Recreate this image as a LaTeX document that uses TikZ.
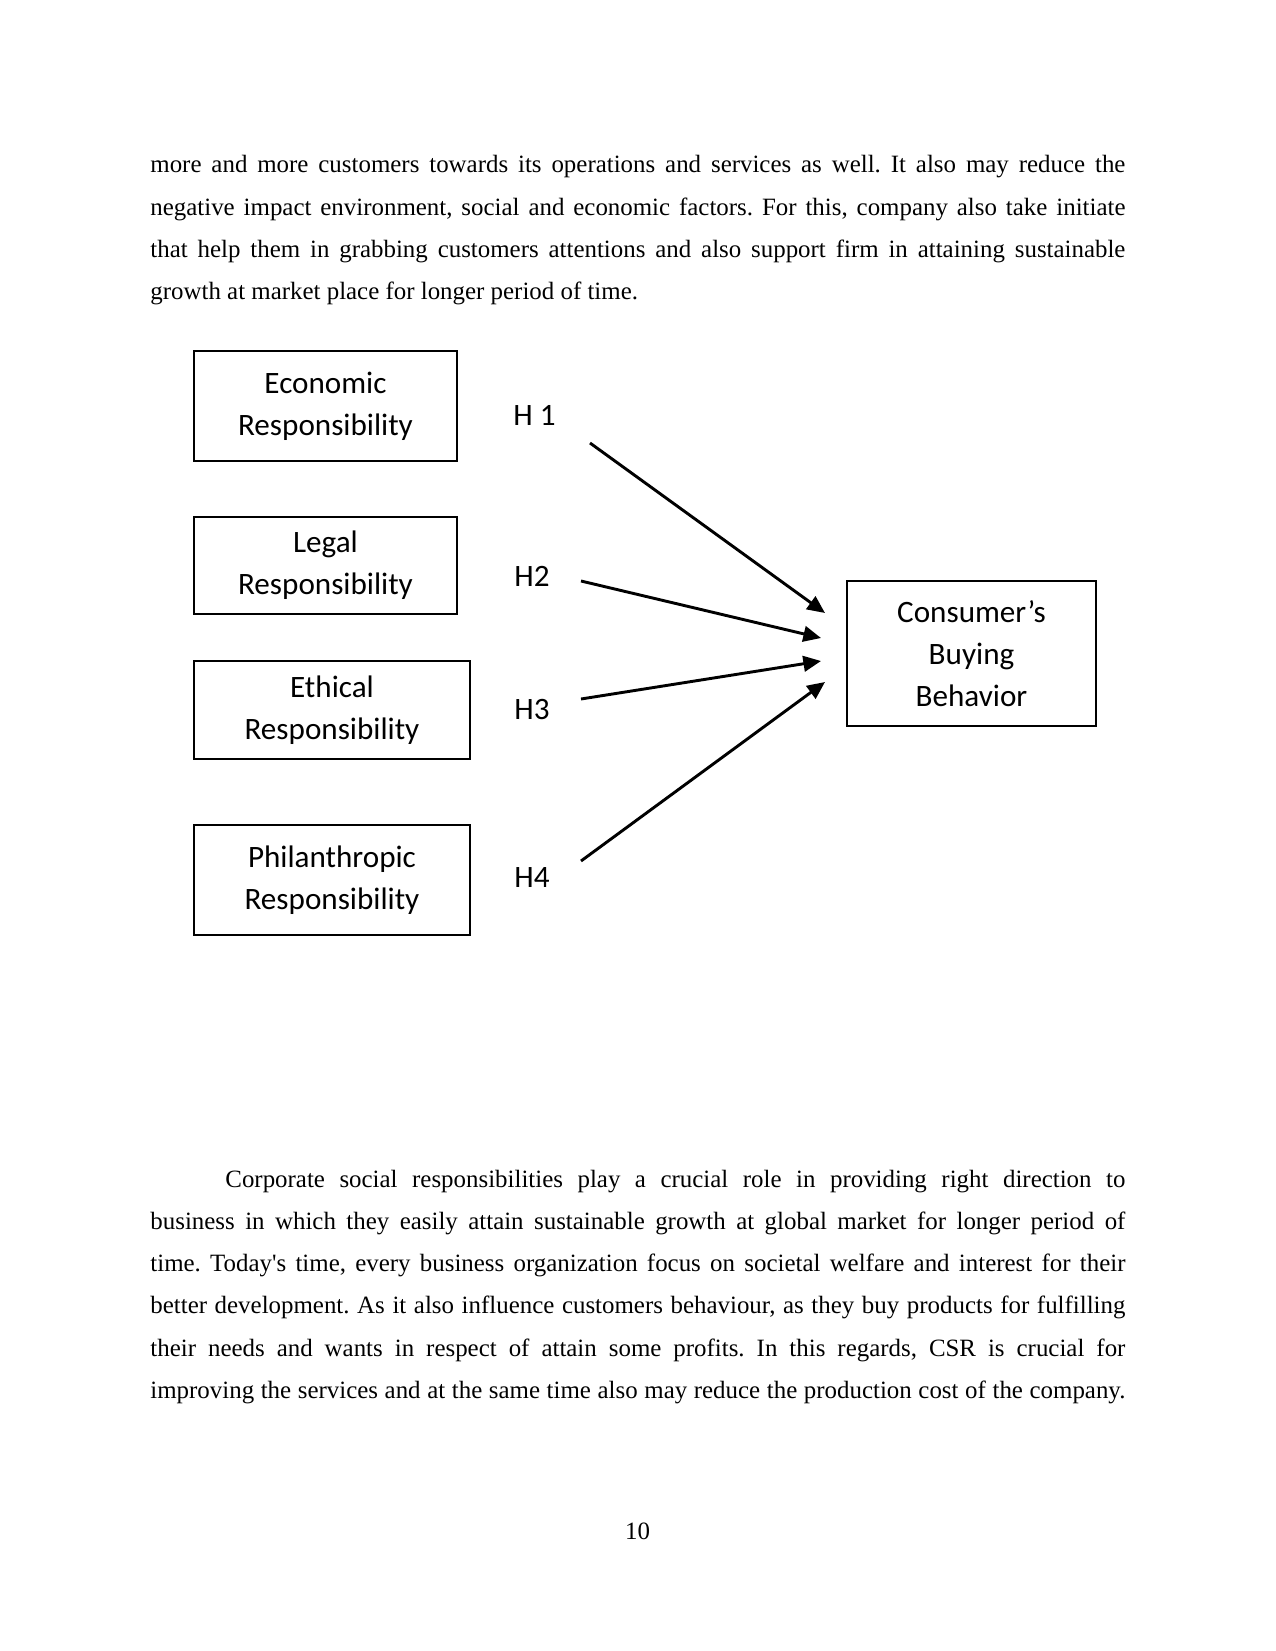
\documentclass[tikz,border=0pt]{standalone}
\usepackage{fontspec}
\newfontfamily\timesfont{Liberation Serif}[Ligatures=NoCommon]
\newfontfamily\calibri{Carlito}
\usetikzlibrary{arrows.meta}
\newcommand\loosespace{\frenchspacing\spaceskip=3pt plus 12pt minus 1.2pt\relax}

\begin{document}
\begin{tikzpicture}[x=0.4818pt,y=-0.4818pt,
  rbox/.style={draw,line width=1.1pt,align=center,inner sep=0pt,
    font=\calibri\fontsize{15}{20.2}\selectfont},
  hlab/.style={anchor=base west,inner sep=0pt,font=\calibri\fontsize{15}{18}\selectfont},
  hyp/.style={-{Triangle[length=8.5pt,width=7.5pt]},line width=1.4pt},
  para/.style={anchor=base west,inner sep=0pt,text width=6.5in,
    font=\timesfont\fontsize{12}{20.38}\selectfont}]
  \path[use as bounding box,fill=white] (0,0) rectangle (1275,1651);

  % text above
  \node[para] (parA) at (150,173) {\loosespace
    \makebox[6.5in][s]{more and more customers towards its operations and services as well. It also may reduce the}\\
    \makebox[6.5in][s]{negative impact environment, social and economic factors. For this, company also take initiate}\\
    \makebox[6.5in][s]{that help them in grabbing customers attentions and also support firm in attaining sustainable}\\
    growth at market place for longer period of time.};

  % CSR dimensions
  \node[rbox,minimum width=126.7pt,minimum height=53pt] (econ) at (325.5,406) {Economic\\Responsibility};
  \node[rbox,minimum width=126.7pt,minimum height=46.7pt] (legal) at (325.5,565.5) {Legal\\Responsibility};
  \node[rbox,minimum width=133pt,minimum height=47.2pt] (ethic) at (332,710) {Ethical\\Responsibility};
  \node[rbox,minimum width=133pt,minimum height=53pt] (phil) at (332,880) {Philanthropic\\Responsibility};
  \node[rbox,minimum width=120pt,minimum height=69.9pt] (cbb) at (971.5,653.5) {Consumer’s\\Buying\\Behavior};

  % hypotheses
  \node[hlab] (hA) at (513,426) {H 1};
  \node[hlab] (hB) at (514,586) {H2};
  \node[hlab] (hC) at (514,719) {H3};
  \node[hlab] (hD) at (514,887) {H4};

  \coordinate (tA) at (590,443);
  \coordinate (tB) at (581,581);
  \coordinate (tC) at (581,699);
  \coordinate (tD) at (581,861);
  \coordinate (eA) at (825,613);
  \coordinate (eB) at (821,638);
  \coordinate (eC) at (821,661);
  \coordinate (eD) at (825,682);
  \draw[hyp] (tA) -- (eA);
  \draw[hyp] (tB) -- (eB);
  \draw[hyp] (tC) -- (eC);
  \draw[hyp] (tD) -- (eD);

  % text below
  \node[para] (parB) at (150,1187) {\loosespace
    \makebox[6.5in][s]{\hspace{0.5in}Corporate social responsibilities play a crucial role in providing right direction to}\\
    \makebox[6.5in][s]{business in which they easily attain sustainable growth at global market for longer period of}\\
    \makebox[6.5in][s]{time. Today's time, every business organization focus on societal welfare and interest for their}\\
    \makebox[6.5in][s]{better development. As it also influence customers behaviour, as they buy products for fulfilling}\\
    \makebox[6.5in][s]{their needs and wants in respect of attain some profits. In this regards, CSR is crucial for}\\
    \makebox[6.5in][s]{improving the services and at the same time also may reduce the production cost of the company.}};

  \node[anchor=base,inner sep=0pt,font=\timesfont\fontsize{12}{14}\selectfont] (pgno) at (637.5,1539) {10};
\end{tikzpicture}
\end{document}
